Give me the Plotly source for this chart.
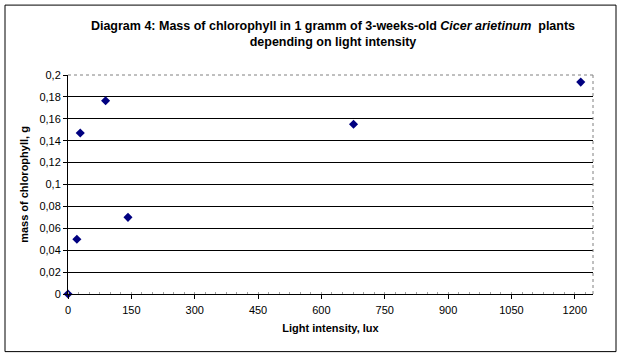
import plotly.graph_objects as go

# Data
light_lux = [0, 21, 29, 89, 142, 676, 1214]
chlorophyll_g = [0.0, 0.05, 0.147, 0.1765, 0.07, 0.155, 0.1935]

y_tickvals = [0, 0.02, 0.04, 0.06, 0.08, 0.1, 0.12, 0.14, 0.16, 0.18, 0.2]
y_ticktext = ["0", "0,02", "0,04", "0,06", "0,08", "0,1", "0,12", "0,14", "0,16", "0,18", "0,2"]
x_tickvals = [0, 150, 300, 450, 600, 750, 900, 1050, 1200]

title_line1 = "Diagram 4: Mass of chlorophyll in 1 gramm of 3-weeks-old <i>Cicer arietinum</i>  plants"
title_line2 = "depending on light intensity"

FONT = "Liberation Sans, Arial, sans-serif"

fig = go.Figure()
fig.add_trace(go.Scatter(
    x=light_lux, y=chlorophyll_g, mode="markers",
    marker=dict(symbol="diamond", size=7, color="#000080", line=dict(width=0)),
    showlegend=False, hoverinfo="x+y", cliponaxis=False,
))

PW, PH = 525.0, 219.3  # plot area size in px

fig.update_layout(
    width=623, height=359,
    margin=dict(l=68, r=30, t=75, b=65),
    paper_bgcolor="white", plot_bgcolor="white",
    font=dict(family=FONT, size=11, color="black"),
    title=dict(
        text="<b>" + title_line1 + "<br>" + title_line2 + "</b>",
        x=333 / 623, xref="container", xanchor="center",
        y=1 - 29.5 / 359, yref="container", yanchor="middle",
        font=dict(family=FONT, size=12.5, color="black"),
    ),
    xaxis=dict(
        range=[0, 1243], tickvals=x_tickvals, ticks="outside", ticklen=4,
        tickcolor="black", showline=True, linecolor="black", linewidth=1,
        showgrid=False, zeroline=False, ticklabelstandoff=2,
        minor=dict(ticks="inside", ticklen=2, tickcolor="#a0a0a0", dtick=25, showgrid=False),
        title=dict(text="<b>Light intensity, lux</b>", standoff=9,
                   font=dict(family=FONT, size=11)),
    ),
    yaxis=dict(
        range=[0, 0.2], tickvals=y_tickvals, ticktext=y_ticktext,
        ticks="outside", ticklen=4, tickcolor="black",
        showline=True, linecolor="black", linewidth=1,
        showgrid=True, gridcolor="black", gridwidth=1, zeroline=False,
        title=dict(text="<b>mass of chlorophyll, g</b>", standoff=8,
                   font=dict(family=FONT, size=11)),
    ),
    shapes=[
        # outer chart border
        dict(type="rect", xref="paper", yref="paper",
             x0=(5 - 68) / PW, x1=(616 - 68) / PW,
             y0=-(352 - 294.3) / PH, y1=1 + (75 - 5) / PH,
             line=dict(color="black", width=1), layer="above"),
        # plot-area border (top & right), grey dotted
        dict(type="line", xref="x domain", yref="y domain", x0=0, x1=1, y0=1, y1=1,
             line=dict(color="white", width=1.5)),
        dict(type="line", xref="x domain", yref="y domain", x0=0, x1=1, y0=1, y1=1,
             line=dict(color="#808080", width=1, dash="dot")),
        dict(type="line", xref="x domain", yref="y domain", x0=1, x1=1, y0=0, y1=1,
             line=dict(color="#808080", width=1, dash="dot")),
    ],
)

fig.write_html("out.html", config={"displayModeBar": False},
               post_script="document.body.style.margin='0';")
